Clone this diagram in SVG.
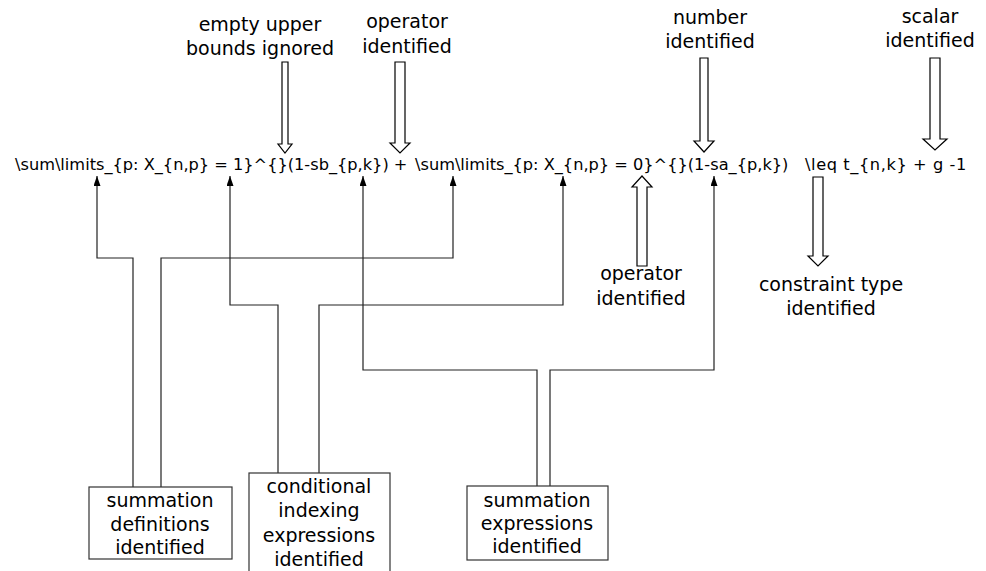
<svg xmlns="http://www.w3.org/2000/svg" width="986" height="571" viewBox="0 0 986 571">
<defs>
<style>
.lbl { font-family: "DejaVu Sans", "Liberation Sans", sans-serif; font-size: 19px; fill: #000; text-anchor: middle; }
.fx { font-family: "DejaVu Sans", "Liberation Sans", sans-serif; font-size: 16.2px; fill: #000; }
.conn { fill: none; stroke: #222; stroke-width: 1.2; }
.hollow { fill: #fff; stroke: #000; stroke-width: 1.2; stroke-linejoin: miter; }
.box { fill: #fff; stroke: #333; stroke-width: 1.2; }
</style>
<marker id="ah" viewBox="0 0 10 7" refX="10" refY="3.5" markerWidth="10" markerHeight="7" markerUnits="userSpaceOnUse" orient="auto">
<path d="M0,0 L10,3.5 L0,7 z" fill="#000"/>
</marker>
</defs>
<rect x="0" y="0" width="986" height="571" fill="#fff"/>

<g id="formula">
<text class="fx" y="170"><tspan x="15">\sum\limits_{p: X_{n,p} = 1}^{}(1-sb_{p,k}) +</tspan><tspan x="415">\sum\limits_{p: X_{n,p} = 0}^{}(1-sa_{p,k})</tspan><tspan x="805" letter-spacing="0.6">\leq t_{n,k} + g -1</tspan></text>
</g>

<g id="connectors">
<path class="conn" d="M133,487 V258 H97 V176" marker-end="url(#ah)"/>
<path class="conn" d="M161,487 V258 H453 V176" marker-end="url(#ah)"/>
<path class="conn" d="M278,473 V305 H230 V176" marker-end="url(#ah)"/>
<path class="conn" d="M319,473 V305 H563 V176" marker-end="url(#ah)"/>
<path class="conn" d="M537,486 V370 H363 V176" marker-end="url(#ah)"/>
<path class="conn" d="M550,486 V370 H714 V176" marker-end="url(#ah)"/>
</g>

<g id="note-empty-upper-bounds">
<text class="lbl" x="260" y="31">empty upper</text>
<text class="lbl" x="260" y="55">bounds ignored</text>
<polygon class="hollow" points="282,62 288,62 288,144 292,144 285,153 278,144 282,144"/>
</g>

<g id="note-operator-top">
<text class="lbl" x="407" y="28">operator</text>
<text class="lbl" x="407" y="53">identified</text>
<polygon class="hollow" points="395,62 405,62 405,143 410,143 400,153 390,143 395,143"/>
</g>

<g id="note-number">
<text class="lbl" x="710" y="24">number</text>
<text class="lbl" x="710" y="48">identified</text>
<polygon class="hollow" points="700,58 708,58 708,141 714,141 704,152 694,141 700,141"/>
</g>

<g id="note-scalar">
<text class="lbl" x="930" y="23">scalar</text>
<text class="lbl" x="930" y="47">identified</text>
<polygon class="hollow" points="930,58 940,58 940,139 947,139 935,150 923,139 930,139"/>
</g>

<g id="note-operator-bottom">
<polygon class="hollow" points="642,176 652,187 647,187 647,266 637,266 637,187 632,187"/>
<text class="lbl" x="641" y="280">operator</text>
<text class="lbl" x="641" y="305">identified</text>
</g>

<g id="note-constraint-type">
<polygon class="hollow" points="813,177 823,177 823,256 828,256 818,266 808,256 813,256"/>
<text class="lbl" x="831" y="291">constraint type</text>
<text class="lbl" x="831" y="315">identified</text>
</g>

<g id="box-summation-definitions">
<rect class="box" x="89" y="487" width="143" height="72"/>
<text class="lbl" x="160" y="507">summation</text>
<text class="lbl" x="160" y="531">definitions</text>
<text class="lbl" x="160" y="554">identified</text>
</g>

<g id="box-conditional-indexing">
<rect class="box" x="249" y="473" width="141" height="110"/>
<text class="lbl" x="319" y="493">conditional</text>
<text class="lbl" x="319" y="517">indexing</text>
<text class="lbl" x="319" y="542">expressions</text>
<text class="lbl" x="319" y="566">identified</text>
</g>

<g id="box-summation-expressions">
<rect class="box" x="467" y="486" width="141" height="74"/>
<text class="lbl" x="537" y="507">summation</text>
<text class="lbl" x="537" y="530">expressions</text>
<text class="lbl" x="537" y="553">identified</text>
</g>
</svg>
